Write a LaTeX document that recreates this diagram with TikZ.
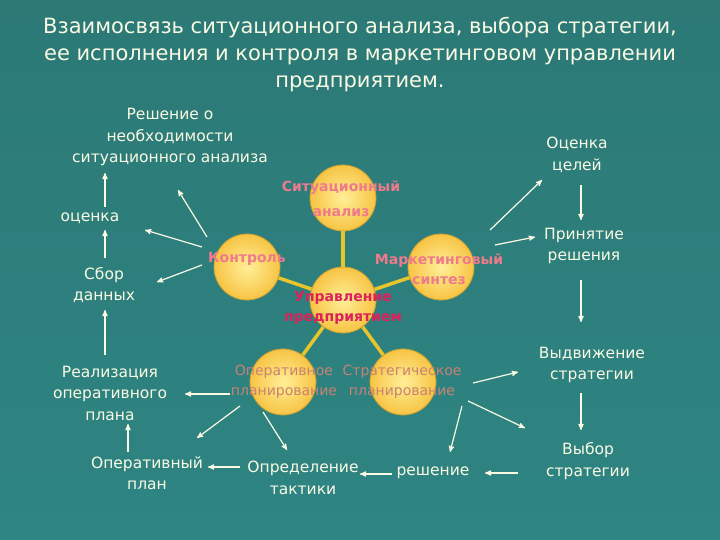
\documentclass[tikz,border=0pt]{standalone}
\usepackage{fontspec}
\setmainfont{DejaVu Sans}
\usetikzlibrary{arrows}

\definecolor{slidetop}{HTML}{2C7976}
\definecolor{slidebot}{HTML}{2E8583}
\definecolor{txtwhite}{HTML}{FAFAE4}
\definecolor{ballin}{HTML}{FFEF98}
\definecolor{ballout}{HTML}{F7C444}
\definecolor{ringgold}{HTML}{C9A035}
\definecolor{linkyellow}{HTML}{E9C52C}
\definecolor{pinklbl}{HTML}{EE7A8C}
\definecolor{crimson}{HTML}{DC215C}
\definecolor{planlbl}{HTML}{C98272}

\begin{document}
\begin{tikzpicture}[x=1pt,y=-1pt,
    ball/.style={circle,minimum size=66pt,inner sep=0pt,draw=ringgold,line width=0.8pt,
      inner color=ballin,outer color=ballout},
    link/.style={linkyellow,line width=3.5pt},
    txt/.style={text=txtwhite,align=center,inner sep=2pt,font=\fontsize{15.5}{21.5}\selectfont},
    lbl/.style={text=pinklbl,align=center,inner sep=0pt,font=\bfseries\fontsize{14}{20}\selectfont},
    arr/.style={->,>=stealth',txtwhite,line width=1.2pt}]
  % background
  \useasboundingbox (0,0) rectangle (720,540);
  \fill[top color=slidetop,bottom color=slidebot] (0,0) rectangle (720,540);
  % title
  \node[text=txtwhite,align=center,font=\fontsize{21}{27}\selectfont] (title) at (360,55)
    {Взаимосвязь ситуационного анализа, выбора стратегии,\\
     ее исполнения и контроля в маркетинговом управлении\\
     предприятием.};
  % circles
  \node[ball] (upr) at (343,300) {};
  \node[ball] (sit) at (343,198) {};
  \node[ball] (kon) at (247,267) {};
  \node[ball] (mark) at (441,267) {};
  \node[ball] (oper) at (283,382) {};
  \node[ball] (strat) at (403,382) {};
  % yellow links
  \draw[link] (upr) -- (sit);
  \draw[link] (upr) -- (kon);
  \draw[link] (upr) -- (mark);
  \draw[link] (upr) -- (oper);
  \draw[link] (upr) -- (strat);
  % circle labels
  \node[lbl,font=\bfseries\fontsize{14}{25}\selectfont] (sitL) at (341,199) {Ситуационный\\анализ};
  \node[lbl] (konL) at (247,259) {Контроль};
  \node[lbl] (markL) at (439,269) {Маркетинговый\\синтез};
  \node[lbl,text=crimson] (uprL) at (343,308) {Управление\\предприятием};
  \node[lbl,text=planlbl,font=\fontsize{14}{20}\selectfont] (operL) at (284,382) {Оперативное\\планирование};
  \node[lbl,text=planlbl,font=\fontsize{14}{20}\selectfont] (stratL) at (402,382) {Стратегическое\\планирование};
  % text nodes
  \node[txt] (resh) at (170,137) {Решение о\\необходимости\\ситуационного анализа};
  \node[txt] (ocen) at (90,218) {оценка};
  \node[txt] (sbor) at (104,285) {Сбор\\данных};
  \node[txt] (real) at (110,393) {Реализация\\оперативного\\плана};
  \node[txt] (opplan) at (147,473) {Оперативный\\план};
  \node[txt] (opred) at (303,478) {Определение\\тактики};
  \node[txt] (reshen) at (433,473) {решение};
  \node[txt] (vybor) at (588,461) {Выбор\\стратегии};
  \node[txt] (vydv) at (592,365) {Выдвижение\\стратегии};
  \node[txt] (prin) at (584,246) {Принятие\\решения};
  \node[txt] (ocel) at (577,155) {Оценка\\целей};
  % left chain
  \draw[arr] ([shift={(15,-11)}]ocen.center) -- ([shift={(-65,36)}]resh.center);
  \draw[arr] ([shift={(1,-27)}]sbor.center) -- ([shift={(15,12)}]ocen.center);
  \draw[arr] ([shift={(-5,-38)}]real.center) -- ([shift={(1,25)}]sbor.center);
  \draw[arr] ([shift={(-19,-21)}]opplan.center) -- ([shift={(18,31)}]real.center);
  % from control
  \draw[arr] ([shift={(-40,-30)}]kon.center) -- ([shift={(8,53)}]resh.center);
  \draw[arr] ([shift={(-45,-20)}]kon.center) -- ([shift={(55,12)}]ocen.center);
  \draw[arr] ([shift={(-45,-2)}]kon.center) -- ([shift={(53,-3)}]sbor.center);
  % from synthesis
  \draw[arr] ([shift={(49,-37)}]mark.center) -- ([shift={(-35,25)}]ocel.center);
  \draw[arr] ([shift={(54,-22)}]mark.center) -- ([shift={(-49,-9)}]prin.center);
  % right chain
  \draw[arr] ([shift={(4,30)}]ocel.center) -- ([shift={(-3,-26)}]prin.center);
  \draw[arr] ([shift={(-3,34)}]prin.center) -- ([shift={(-11,-43)}]vydv.center);
  \draw[arr] ([shift={(-11,28)}]vydv.center) -- ([shift={(-7,-31)}]vybor.center);
  % bottom chain
  \draw[arr] ([shift={(-70,12)}]vybor.center) -- ([shift={(52,0)}]reshen.center);
  \draw[arr] ([shift={(-41,1)}]reshen.center) -- ([shift={(57,-4)}]opred.center);
  \draw[arr] ([shift={(-63,-11)}]opred.center) -- ([shift={(61,-6)}]opplan.center);
  % from planning
  \draw[arr] ([shift={(-53,12)}]oper.center) -- ([shift={(75,1)}]real.center);
  \draw[arr] ([shift={(-43,24)}]oper.center) -- ([shift={(50,-35)}]opplan.center);
  \draw[arr] ([shift={(-20,30)}]oper.center) -- ([shift={(-16,-28)}]opred.center);
  \draw[arr] ([shift={(59,24)}]strat.center) -- ([shift={(17,-21)}]reshen.center);
  \draw[arr] ([shift={(70,1)}]strat.center) -- ([shift={(-74,7)}]vydv.center);
  \draw[arr] ([shift={(65,19)}]strat.center) -- ([shift={(-63,-33)}]vybor.center);
\end{tikzpicture}
\end{document}
